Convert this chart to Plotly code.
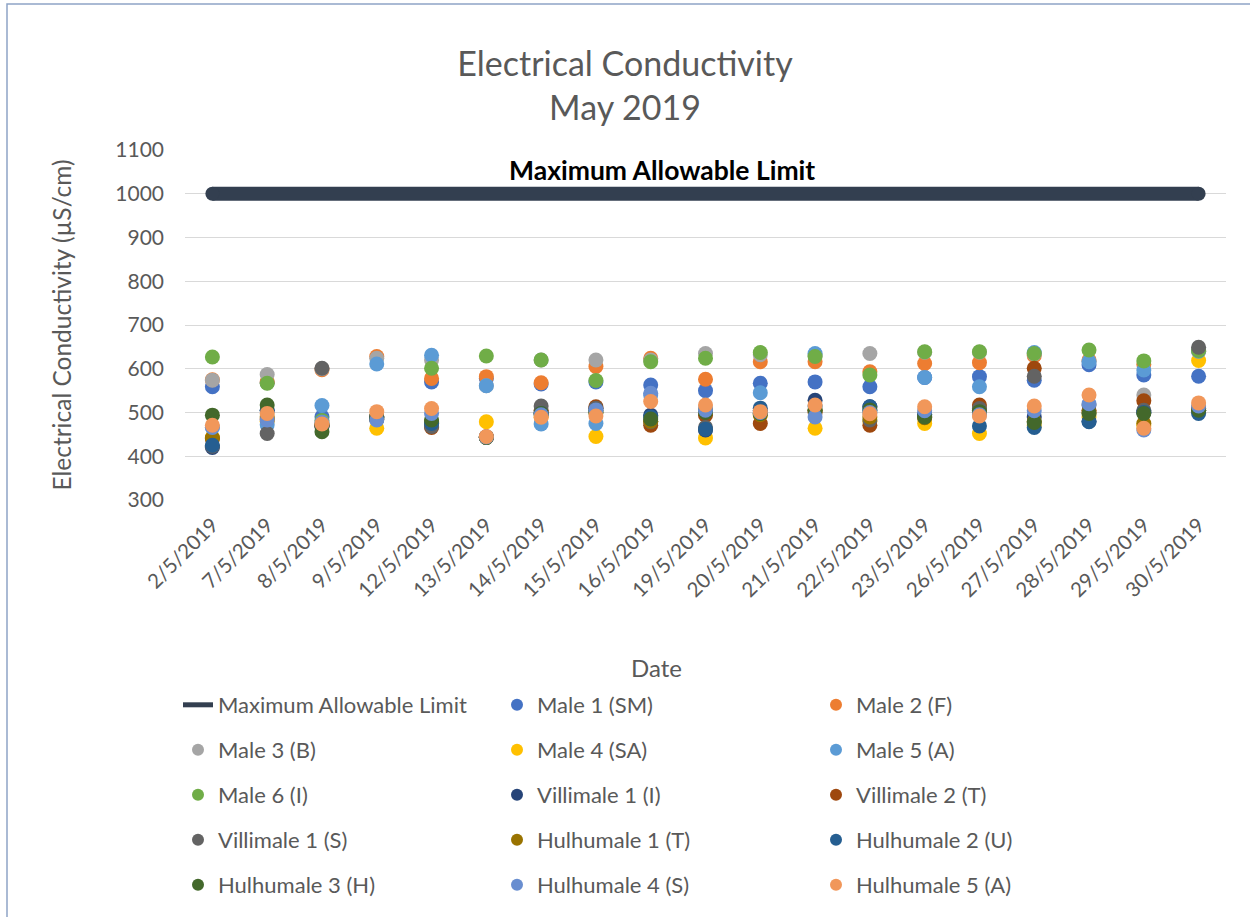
import plotly.graph_objects as go

dates = ["2/5/2019", "7/5/2019", "8/5/2019", "9/5/2019", "12/5/2019", "13/5/2019",
         "14/5/2019", "15/5/2019", "16/5/2019", "19/5/2019", "20/5/2019", "21/5/2019",
         "22/5/2019", "23/5/2019", "26/5/2019", "27/5/2019", "28/5/2019", "29/5/2019",
         "30/5/2019"]

limit = [1000] * len(dates)

male1 = [559, 568, 490, 485, 570, 578, 565, 570, 563, 550, 567, 570, 559, 580, 582, 574, 609, 586, 583]
male2 = [575, 570, 598, 628, 578, 582, 568, 605, 624, 576, 616, 616, 593, 612, 614, 630, 620, 610, 640]
male3 = [574, 587, 600, 624, 620, 561, 620, 620, 620, 635, 632, 630, 635, 638, 638, 634, 617, 540, 645]
male4 = [443, 480, 470, 464, 480, 479, 490, 445, 480, 442, 495, 464, 480, 475, 452, 470, 490, 470, 619]
male5 = [466, 472, 516, 611, 631, 561, 474, 475, 540, 510, 545, 635, 505, 580, 559, 637, 616, 597, 640]
male6 = [627, 567, 482, 490, 601, 629, 620, 573, 616, 624, 637, 628, 586, 639, 639, 635, 643, 618, 642]
villi1_i = [420, 505, 470, 490, 475, 444, 500, 510, 494, 460, 505, 528, 513, 495, 505, 490, 480, 500, 505]
villi2_t = [440, 485, 470, 485, 466, 444, 505, 513, 471, 494, 475, 500, 471, 490, 517, 601, 505, 527, 510]
villi1_s = [423, 452, 601, 490, 468, 443, 515, 510, 479, 466, 498, 505, 483, 492, 509, 583, 517, 505, 649]
hulh1_t = [442, 490, 470, 490, 478, 443, 495, 500, 480, 502, 495, 505, 490, 488, 500, 480, 500, 475, 505]
hulh2_u = [425, 505, 468, 488, 475, 444, 498, 505, 490, 462, 510, 515, 513, 496, 469, 466, 479, 500, 498]
hulh3_h = [494, 517, 456, 485, 483, 443, 498, 500, 485, 500, 498, 506, 506, 490, 502, 477, 498, 498, 505]
hulh4_s = [466, 483, 478, 483, 498, 444, 495, 506, 544, 505, 500, 490, 500, 504, 495, 504, 520, 460, 515]
hulh5_a = [471, 498, 474, 502, 509, 445, 489, 492, 525, 517, 502, 517, 497, 513, 492, 515, 540, 464, 522]

series = [
    ("Male 1 (SM)", male1, "#4472C4"),
    ("Male 2 (F)", male2, "#ED7D31"),
    ("Male 3 (B)", male3, "#A5A5A5"),
    ("Male 4 (SA)", male4, "#FFC000"),
    ("Male 5 (A)", male5, "#5B9BD5"),
    ("Male 6 (I)", male6, "#70AD47"),
    ("Villimale 1 (I)", villi1_i, "#264478"),
    ("Villimale 2 (T)", villi2_t, "#9E480E"),
    ("Villimale 1 (S)", villi1_s, "#636363"),
    ("Hulhumale 1 (T)", hulh1_t, "#997300"),
    ("Hulhumale 2 (U)", hulh2_u, "#255E91"),
    ("Hulhumale 3 (H)", hulh3_h, "#43682B"),
    ("Hulhumale 4 (S)", hulh4_s, "#698ED0"),
    ("Hulhumale 5 (A)", hulh5_a, "#F1975A"),
]

FONT = "Lato"
GREY = "#595959"
LIMIT_COLOR = "#333F50"

legend_names = ["legend", "legend2", "legend3", "legend4", "legend5"]

fig = go.Figure()

fig.add_trace(go.Scatter(
    x=dates, y=limit, mode="lines", name="Maximum Allowable Limit",
    line=dict(color=LIMIT_COLOR, width=14), legend="legend",
))
# rounded line caps
fig.add_trace(go.Scatter(
    x=[dates[0], dates[-1]], y=[limit[0], limit[-1]], mode="markers",
    marker=dict(color=LIMIT_COLOR, size=14), showlegend=False, hoverinfo="skip",
))

for i, (name, vals, col) in enumerate(series):
    idx = i + 1
    fig.add_trace(go.Scatter(
        x=dates, y=vals, mode="markers", name=name,
        marker=dict(color=col, size=15),
        legend=legend_names[idx // 3],
    ))

fig.add_annotation(
    x=(662 - 185) / 1041, y=(500 - 170) / 350, xref="paper", yref="paper",
    xanchor="center", yanchor="middle",
    text="<b>Maximum Allowable Limit</b>", showarrow=False,
    font=dict(family=FONT, size=26.5, color="#000000"),
)

fig.add_annotation(
    x=(656 - 185) / 1041, y=(500 - 667) / 350, xref="paper", yref="paper",
    xanchor="center", yanchor="middle",
    text="Date", showarrow=False,
    font=dict(family=FONT, size=24, color=GREY),
)

# chart border
fig.add_shape(type="rect", xref="paper", yref="paper",
              x0=(7 - 185) / 1041, x1=(1262 - 185) / 1041,
              y0=(500 - 930) / 350, y1=(500 - 4) / 350,
              line=dict(color="#8EA4C6", width=1.5), layer="below")

row_y = [705, 750, 795, 840, 885]
layout_legends = {}
for k, ln in enumerate(legend_names):
    layout_legends[ln] = dict(
        orientation="h", entrywidth=274, entrywidthmode="pixels",
        xref="container", yref="container",
        x=178 / 1250, xanchor="left",
        y=1 - row_y[k] / 917, yanchor="middle",
        font=dict(family=FONT, size=22, color=GREY),
        bgcolor="rgba(0,0,0,0)", itemsizing="constant",
        traceorder="normal",
    )

fig.update_layout(
    width=1250, height=917,
    paper_bgcolor="white", plot_bgcolor="white",
    margin=dict(l=185, r=24, t=150, b=417),
    font=dict(family=FONT, color=GREY),
    title=dict(text="Electrical Conductivity<br>May 2019", x=0.5, xanchor="center",
               xref="container", yref="container", y=1 - 76 / 917, yanchor="middle",
               font=dict(family=FONT, size=34, color=GREY)),
    xaxis=dict(type="category", range=[-0.5, 18.5], tickangle=-45,
               showgrid=False, showline=False, zeroline=False, ticklabelstandoff=8,
               tickfont=dict(family=FONT, size=20.5, color=GREY)),
    yaxis=dict(range=[300, 1100], dtick=100, showgrid=True, gridcolor="#D9D9D9",
               gridwidth=1, zeroline=False, showline=False, ticklabelstandoff=20,
               tickfont=dict(family=FONT, size=21, color=GREY),
               title=dict(text="Electrical Conductivity (µS/cm)", standoff=36,
                          font=dict(family=FONT, size=24.5, color=GREY))),
    **layout_legends,
)

fig.write_html("out.html", config={"displayModeBar": False},
               post_script="document.body.style.margin='0';")
